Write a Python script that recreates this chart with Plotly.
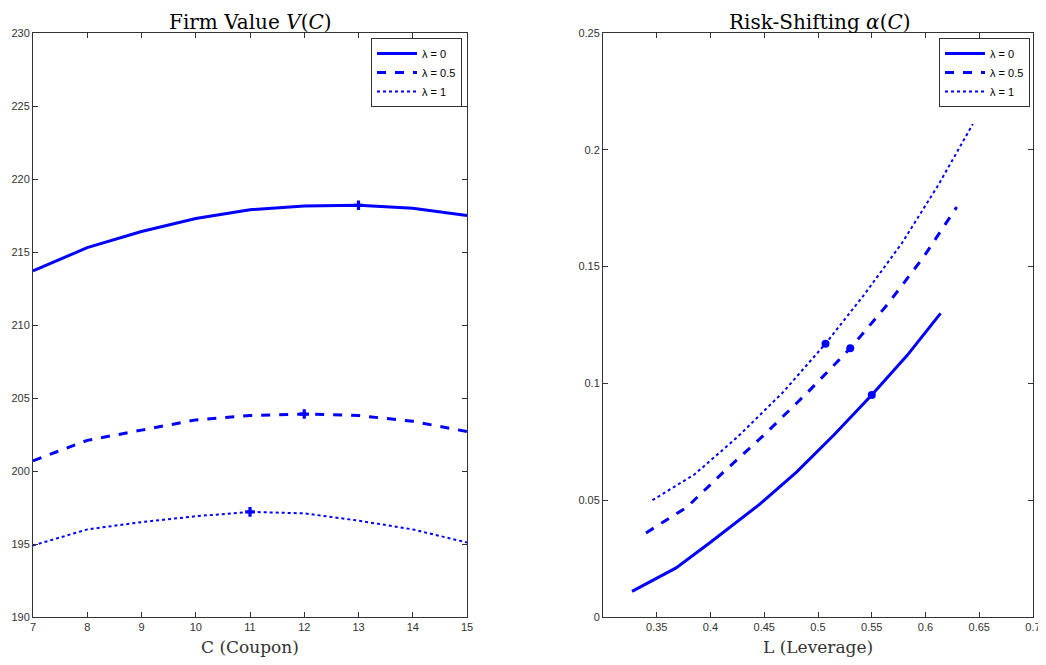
import plotly.graph_objects as go

coupon = [7, 8, 9, 10, 11, 12, 13, 14, 15]
lam_labels = ["λ = 0", "λ = 0.5", "λ = 1"]

value_l0 = [213.7, 215.3, 216.4, 217.3, 217.9, 218.15, 218.2, 218.0, 217.5]
value_l05 = [200.7, 202.1, 202.8, 203.5, 203.8, 203.9, 203.8, 203.4, 202.7]
value_l1 = [194.9, 196.0, 196.5, 196.9, 197.2, 197.1, 196.6, 196.0, 195.1]

lev_l0 = [0.327, 0.368, 0.400, 0.445, 0.480, 0.515, 0.550, 0.583, 0.614]
alpha_l0 = [0.011, 0.021, 0.032, 0.048, 0.062, 0.078, 0.095, 0.112, 0.130]
lev_l05 = [0.340, 0.378, 0.412, 0.450, 0.490, 0.530, 0.565, 0.598, 0.629]
alpha_l05 = [0.036, 0.047, 0.062, 0.078, 0.096, 0.115, 0.134, 0.154, 0.1755]
lev_l1 = [0.346, 0.385, 0.425, 0.467, 0.507, 0.543, 0.578, 0.612, 0.644]
alpha_l1 = [0.050, 0.061, 0.077, 0.096, 0.117, 0.138, 0.160, 0.185, 0.211]

left_yticks = [190, 195, 200, 205, 210, 215, 220, 225, 230]
right_xticks = [0.35, 0.4, 0.45, 0.5, 0.55, 0.6, 0.65, 0.7]
right_yticks = [0, 0.05, 0.1, 0.15, 0.2, 0.25]

BLUE = "#0000ff"
dashes = ["solid", "dash", "dot"]
widths = [3, 3, 2]

# page body has an 8px margin: figure pixel = reference pixel - 8
OFF = 8
W, H = 1046 - OFF, 665 - OFF


def px(x):
    return (x - OFF) / W


def py(y):
    return 1 - (y - OFF) / H


fig = go.Figure()

values = [value_l0, value_l05, value_l1]
levs = [lev_l0, lev_l05, lev_l1]
alphas = [alpha_l0, alpha_l05, alpha_l1]

for i in range(3):
    fig.add_trace(go.Scatter(x=coupon, y=values[i], mode="lines", name=lam_labels[i],
                             line=dict(color=BLUE, width=widths[i], dash=dashes[i]),
                             legendgroup=f"a{i}", xaxis="x", yaxis="y", legend="legend"))
for i in range(3):
    fig.add_trace(go.Scatter(x=levs[i], y=alphas[i], mode="lines", name=lam_labels[i],
                             line=dict(color=BLUE, width=widths[i], dash=dashes[i]),
                             legendgroup=f"b{i}", xaxis="x2", yaxis="y2", legend="legend2"))
# optimum markers (at the coupon maximising firm value)
for i in range(3):
    k = values[i].index(max(values[i]))
    fig.add_trace(go.Scatter(x=[coupon[k]], y=[values[i][k]], mode="markers", showlegend=False,
                             marker=dict(symbol="cross", size=8, color=BLUE),
                             xaxis="x", yaxis="y"))
    fig.add_trace(go.Scatter(x=[levs[i][k]], y=[alphas[i][k]], mode="markers", showlegend=False,
                             marker=dict(symbol="circle", size=8, color=BLUE),
                             xaxis="x2", yaxis="y2"))

top, bottom = 33, 617
dom_y = [py(bottom), py(top)]
axis_common = dict(showline=True, linecolor="#333333", linewidth=1, mirror="ticks",
                   ticks="inside", ticklen=5, tickcolor="#333333", showgrid=False,
                   zeroline=False, tickfont=dict(family="Liberation Sans, Arial", size=11, color="#333333"),
                   automargin=False)
legend_common = dict(xanchor="right", yanchor="top", bgcolor="white", bordercolor="#333333",
                     borderwidth=1, font=dict(family="Liberation Sans, Arial", size=11, color="black"),
                     tracegroupgap=0, itemwidth=40)

fig.update_layout(
    width=W, height=H,
    margin=dict(l=0, r=0, t=0, b=0),
    paper_bgcolor="white", plot_bgcolor="white",
    xaxis=dict(domain=[px(33), px(467)], range=[7, 15], tickvals=coupon, anchor="y", **axis_common),
    yaxis=dict(domain=dom_y, range=[190, 230], tickvals=left_yticks, anchor="x", **axis_common),
    xaxis2=dict(domain=[px(603), px(1033)], range=[0.3, 0.700001], tickvals=right_xticks,
                ticktext=[f"{v:g}" for v in right_xticks], anchor="y2", **axis_common),
    yaxis2=dict(domain=dom_y, range=[0, 0.25], tickvals=right_yticks,
                ticktext=[f"{v:g}" for v in right_yticks], anchor="x2", **axis_common),
    legend=dict(x=px(462), y=py(38), **legend_common),
    legend2=dict(x=px(1030), y=py(38), **legend_common),
    annotations=[
        dict(text="Firm Value <i>V</i>(<i>C</i>)", x=px(250), y=1, xref="paper", yref="paper",
             xanchor="center", yanchor="top",
             showarrow=False, font=dict(family="DejaVu Serif", size=20, color="black")),
        dict(text="Risk-Shifting <i>α</i>(<i>C</i>)", x=px(820), y=1, xref="paper", yref="paper",
             xanchor="center", yanchor="top",
             showarrow=False, font=dict(family="DejaVu Serif", size=20, color="black")),
        dict(text="C (Coupon)", x=px(250), y=py(647), xref="paper", yref="paper",
             xanchor="center", yanchor="middle",
             showarrow=False, font=dict(family="DejaVu Serif", size=17, color="#333333")),
        dict(text="L (Leverage)", x=px(818), y=py(647), xref="paper", yref="paper",
             xanchor="center", yanchor="middle",
             showarrow=False, font=dict(family="DejaVu Serif", size=17, color="#333333")),
    ],
)

fig.write_html("out.html")
